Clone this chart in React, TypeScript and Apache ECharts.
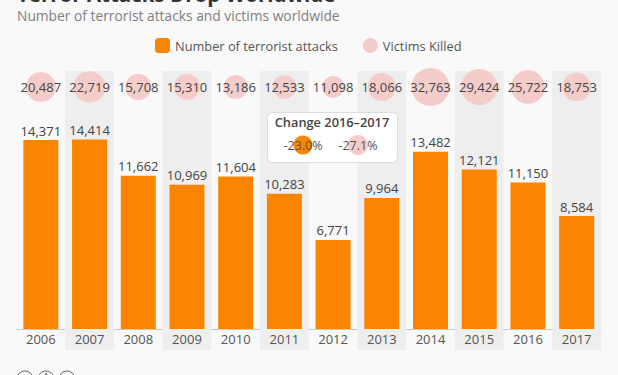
import React, { useEffect, useRef } from "react";
import * as echarts from "echarts";

const years = ["2006","2007","2008","2009","2010","2011","2012","2013","2014","2015","2016","2017"];
const attacks = [14371,14414,11662,10969,11604,10283,6771,9964,13482,12121,11150,8584];
const victims = [20487,22719,15708,15310,13186,12533,11098,18066,32763,29424,25722,18753];
const bandFlags = [null,1,null,1,null,1,null,1,null,1,null,1];
const FONT = "'Open Sans', 'Noto Sans', sans-serif";
const fmt = (n: number) => n.toLocaleString("en-US");

export default function App() {
  const ref = useRef<HTMLDivElement>(null);
  useEffect(() => {
    const chart = echarts.init(ref.current!, null, { renderer: "svg" });
    chart.setOption({
      animation: false,
      backgroundColor: "#f9f9f9",
      textStyle: { fontFamily: FONT },
      legend: {
        left: 150, top: 33, itemWidth: 15, itemHeight: 15, itemGap: 25,
        textStyle: { fontFamily: FONT, fontSize: 12.8, color: "#555" },
        data: [
          { name: "Number of terrorist attacks", icon: "roundRect" },
          { name: "Victims Killed", icon: "circle" },
        ],
      },
      grid: [
        { left: 16.5, right: 17, top: 71, height: 258 },
        { left: 16.5, right: 17, top: 71, height: 279 },
        { left: 16.5, right: 17, top: 67, height: 40 },
      ],
      xAxis: [
        { type: "category", gridIndex: 0, data: years, axisTick: { show: false },
          axisLine: { lineStyle: { color: "#c8c8c8" } },
          axisLabel: { color: "#555", fontSize: 13, fontFamily: FONT, margin: 3, interval: 0 } },
        { type: "category", gridIndex: 1, data: years, show: false },
        { type: "category", gridIndex: 2, data: years, show: false },
      ],
      yAxis: [
        { type: "value", gridIndex: 0, min: 0, max: 19620, show: false },
        { type: "value", gridIndex: 1, min: 0, max: 1, show: false },
        { type: "category", gridIndex: 2, data: ["victims"], show: false },
      ],
      series: [
        { name: "band", type: "bar", xAxisIndex: 1, yAxisIndex: 1, data: bandFlags, barWidth: "100%", z: 0,
          itemStyle: { color: "#eeeeee" }, silent: true },
        { name: "Number of terrorist attacks", type: "bar", xAxisIndex: 0, yAxisIndex: 0, data: attacks, barWidth: 35, z: 2,
          itemStyle: { color: "#fb8500" },
          label: { show: true, position: "top", distance: 3, color: "#444", fontSize: 13, fontFamily: FONT,
            formatter: (p: any) => fmt(p.value) } },
        { name: "Victims Killed", type: "scatter", xAxisIndex: 2, yAxisIndex: 2, z: 2,
          data: victims.map((v, i) => [years[i], "victims", v]),
          symbolSize: (val: any) => 38 * Math.sqrt(val[2] / 32763),
          itemStyle: { color: "#f4cdca", opacity: 1 },
          label: { show: true, position: "inside", color: "#444", fontSize: 13, fontFamily: FONT,
            formatter: (p: any) => fmt(p.value[2]) } },
      ],
      graphic: [
        { type: "text", left: 17, top: -17, z: 10, style: { text: "Terror Attacks Drop Worldwide", font: `bold 20.5px ${FONT}`, fill: "#333" } },
        { type: "text", left: 17, top: 8, z: 10, style: { text: "Number of terrorist attacks and victims worldwide", font: `13.8px ${FONT}`, fill: "#808080" } },
        { type: "rect", shape: { x: 267.5, y: 112.5, width: 130, height: 50, r: 5 }, z: 20, style: { fill: "#ffffff", stroke: "#dddddd", lineWidth: 1 } },
        { type: "text", x: 332, y: 122, z: 21, style: { text: "Change 2016–2017", font: `600 12.8px ${FONT}`, fill: "#444", align: "center", verticalAlign: "middle" } },
        { type: "circle", shape: { cx: 303, cy: 145, r: 9.5 }, z: 21, style: { fill: "#fb8500" } },
        { type: "circle", shape: { cx: 358, cy: 145, r: 10 }, z: 21, style: { fill: "#f4cdca" } },
        { type: "text", x: 303, y: 145, z: 22, style: { text: "-23.0%", font: `12.5px ${FONT}`, fill: "#555", align: "center", verticalAlign: "middle" } },
        { type: "text", x: 358, y: 145, z: 22, style: { text: "-27.1%", font: `12.5px ${FONT}`, fill: "#555", align: "center", verticalAlign: "middle" } },
        { type: "circle", shape: { cx: 25, cy: 379, r: 8 }, z: 10, style: { fill: "none", stroke: "#666", lineWidth: 1 } },
        { type: "circle", shape: { cx: 46, cy: 379, r: 8 }, z: 10, style: { fill: "none", stroke: "#666", lineWidth: 1 } },
        { type: "circle", shape: { cx: 67, cy: 379, r: 8 }, z: 10, style: { fill: "none", stroke: "#666", lineWidth: 1 } },
        { type: "circle", shape: { cx: 46, cy: 374, r: 1 }, z: 10, style: { fill: "#666" } },
      ],
    });
    return () => chart.dispose();
  }, []);
  return <div ref={ref} style={{ position: "absolute", left: 0, top: 0, width: 618, height: 375 }} />;
}
